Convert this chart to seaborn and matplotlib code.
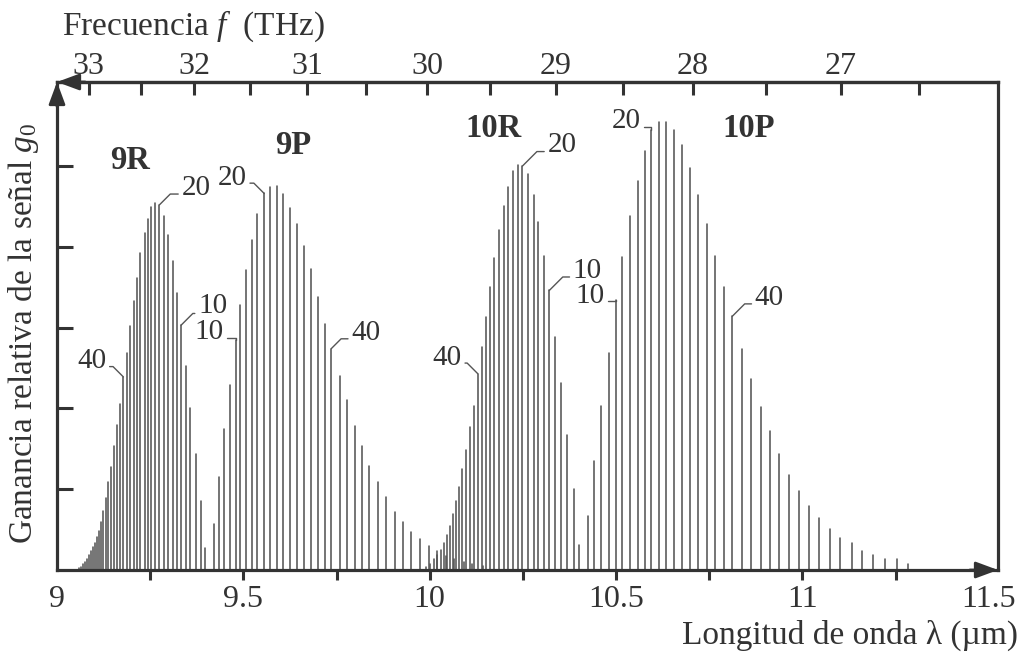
import numpy as np
import pandas as pd
import matplotlib
matplotlib.use("Agg")
import matplotlib.pyplot as plt
import seaborn as sns
from matplotlib.ticker import MultipleLocator, FixedLocator

# ---------------- data ----------------
band_names = ["9R", "9P", "10R", "10P"]

wl_9R = [9.058, 9.064, 9.069, 9.074, 9.080, 9.085, 9.090, 9.096, 9.101, 9.107,
         9.112, 9.117, 9.124, 9.131, 9.137, 9.144, 9.152, 9.161, 9.169, 9.178,
         9.188, 9.197, 9.206, 9.215, 9.224, 9.235, 9.243, 9.253, 9.264, 9.275,
         9.287, 9.299, 9.311, 9.322, 9.333, 9.345, 9.357, 9.372, 9.386, 9.398]
g_9R = [0.02, 0.04, 0.07, 0.10, 0.14, 0.18, 0.23, 0.29, 0.34, 0.41,
        0.48, 0.59, 0.73, 0.89, 1.09, 1.28, 1.53, 1.79, 2.06, 2.39,
        2.69, 3.02, 3.33, 3.62, 3.92, 4.17, 4.35, 4.49, 4.54, 4.52,
        4.38, 4.15, 3.82, 3.43, 3.03, 2.52, 2.00, 1.43, 0.85, 0.27]

wl_9P = [9.420, 9.435, 9.447, 9.463, 9.479, 9.492, 9.507, 9.523, 9.538, 9.556,
         9.572, 9.589, 9.607, 9.626, 9.644, 9.662, 9.682, 9.700, 9.718, 9.736,
         9.759, 9.778, 9.799, 9.818, 9.838, 9.862, 9.883, 9.906, 9.928, 9.949,
         9.973, 9.997, 10.020, 10.043, 10.066, 10.093, 10.114, 10.143]
g_9P = [0.57, 1.15, 1.75, 2.29, 2.85, 3.28, 3.71, 4.08, 4.41, 4.66,
        4.74, 4.75, 4.65, 4.48, 4.28, 4.01, 3.72, 3.38, 3.05, 2.74,
        2.40, 2.10, 1.78, 1.53, 1.29, 1.09, 0.90, 0.72, 0.59, 0.47,
        0.38, 0.30, 0.23, 0.17, 0.14, 0.10, 0.08, 0.05]

wl_10R = [9.991, 10.001, 10.011, 10.021, 10.030, 10.038, 10.046, 10.054, 10.063, 10.071,
          10.079, 10.088, 10.097, 10.108, 10.118, 10.129, 10.140, 10.152, 10.163, 10.173,
          10.185, 10.199, 10.211, 10.224, 10.236, 10.249, 10.263, 10.279, 10.292, 10.307,
          10.321, 10.337, 10.352, 10.369, 10.386, 10.402]
g_10R = [0.04, 0.08, 0.13, 0.18, 0.25, 0.33, 0.43, 0.54, 0.69, 0.85,
         1.03, 1.25, 1.49, 1.77, 2.03, 2.43, 2.76, 3.13, 3.50, 3.86,
         4.21, 4.50, 4.74, 4.94, 5.01, 5.00, 4.90, 4.64, 4.31, 3.89,
         3.46, 2.89, 2.31, 1.67, 1.00, 0.31]

wl_10P = [10.425, 10.442, 10.461, 10.480, 10.499, 10.517, 10.538, 10.558, 10.577, 10.595,
          10.615, 10.634, 10.655, 10.677, 10.698, 10.720, 10.743, 10.766, 10.789, 10.812,
          10.837, 10.862, 10.888, 10.913, 10.937, 10.965, 10.990, 11.018, 11.044, 11.073,
          11.101, 11.132, 11.160, 11.189, 11.223, 11.253, 11.284]
g_10P = [0.67, 1.35, 2.03, 2.69, 3.34, 3.88, 4.38, 4.81, 5.19, 5.44,
         5.55, 5.55, 5.45, 5.26, 4.97, 4.64, 4.28, 3.89, 3.50, 3.14,
         2.73, 2.36, 2.02, 1.72, 1.44, 1.18, 0.98, 0.79, 0.64, 0.51,
         0.39, 0.34, 0.24, 0.18, 0.14, 0.14, 0.08]

# line labels (rotational number J) : band, index of line in band arrays, text
label_band = ["9R", "9R", "9R", "9P", "9P", "9P", "10R", "10R", "10R", "10P", "10P", "10P"]
label_idx = [19, 29, 34, 4, 9, 19, 15, 25, 30, 4, 9, 19]
label_text = ["40", "20", "10", "10", "20", "40", "40", "20", "10", "10", "20", "40"]

band_label_x = [9.195, 9.635, 10.172, 10.856]
band_label_y = [5.07, 5.26, 5.47, 5.47]

wl_ticks = [9, 9.5, 10, 10.5, 11, 11.5]
wl_tick_labels = ["9", "9.5", "10", "10.5", "11", "11.5"]
freq_ticks = [33, 32, 31, 30, 29, 28, 27]
freq_minor = [32.5, 31.5, 30.5, 29.5, 28.5, 27.5, 26.5]
y_ticks = [1, 2, 3, 4, 5]

# ---------------- styling ----------------
sns.set_theme(style="white")
plt.rcParams["font.family"] = ["Liberation Serif", "DejaVu Serif"]
plt.rcParams["mathtext.fontset"] = "custom"
plt.rcParams["mathtext.rm"] = "Liberation Serif"
plt.rcParams["mathtext.it"] = "Liberation Serif:italic"
plt.rcParams["mathtext.bf"] = "Liberation Serif:bold"

TXT = "#333333"
SPINE = "#333333"
LINE = "#555555"
PX = 0.72  # points per pixel at 100 dpi

bands = {"9R": (wl_9R, g_9R), "9P": (wl_9P, g_9P),
         "10R": (wl_10R, g_10R), "10P": (wl_10P, g_10P)}

rows = []
uid = 0
for b in band_names:
    wl, g = bands[b]
    for x, h in zip(wl, g):
        rows.append({"wl": x, "g": 0.0, "line": uid, "band": b})
        rows.append({"wl": x, "g": h, "line": uid, "band": b})
        uid += 1
df = pd.DataFrame(rows)

fig = plt.figure(figsize=(10.23, 6.54), dpi=100)
ax = fig.add_axes([57 / 1023, 84 / 654, 941 / 1023, 488 / 654])

sns.lineplot(data=df, x="wl", y="g", units="line", estimator=None, sort=False,
             color=LINE, linewidth=1.15, ax=ax, legend=False)

ax.set_xlim(9, 11.525)
ax.set_ylim(0, 6.04)

for s in ["left", "right", "bottom", "top"]:
    ax.spines[s].set_visible(True)
    ax.spines[s].set_color(SPINE)
    ax.spines[s].set_linewidth(2.3)

# bottom axis
ax.set_xticks(wl_ticks, labels=wl_tick_labels)
ax.xaxis.set_minor_locator(MultipleLocator(0.25))
ax.tick_params(axis="x", which="both", bottom=True, top=False, direction="out",
               length=7.5, width=2.2, color=SPINE, labelsize=23, labelcolor=TXT, pad=3)
majt = ax.xaxis.get_major_ticks()
majt[0].tick1line.set_visible(False)
majt[-1].tick1line.set_visible(False)

# left axis
ax.set_yticks(y_ticks, labels=[""] * len(y_ticks))
ax.tick_params(axis="y", which="both", left=True, right=False, direction="in",
               length=11.5, width=2.2, color=SPINE)

ax.set_ylabel("Ganancia relativa de la señal $g_0$", fontsize=24, color=TXT)
ax.yaxis.set_label_coords(-0.017, 0.486)
ax.set_xlabel("Longitud de onda λ (µm)", fontsize=24, color=TXT, loc="right")
ax.xaxis.set_label_coords(1.021, -0.103)

# top frequency axis
C = 299.792458


def to_f(x):
    x = np.asarray(x, dtype=float)
    with np.errstate(divide="ignore", invalid="ignore"):
        return C / x


secax = ax.secondary_xaxis("top", functions=(to_f, to_f))
secax.set_xticks(freq_ticks)
secax.xaxis.set_minor_locator(FixedLocator(freq_minor))
secax.tick_params(axis="x", which="both", direction="in", length=9.5, width=2.2,
                  color=SPINE, labelsize=23, labelcolor=TXT, pad=0.5)
secax.spines["top"].set_color(SPINE)
secax.spines["top"].set_linewidth(2.3)
fig.text(62 / 1023, 1 - 35 / 654, "Frecuencia $f$  (THz)", fontsize=24, color=TXT,
         ha="left", va="baseline")

# arrow heads
arrow_kw = dict(arrowstyle="-|>,head_length=1.35,head_width=0.5", color=SPINE,
                lw=2.0, shrinkA=0, shrinkB=0, mutation_scale=10)
ax.annotate("", xy=(0.0, 1.0), xytext=(0.03, 1.0), xycoords="axes fraction",
            arrowprops=arrow_kw, annotation_clip=False)
ax.annotate("", xy=(0.0, 1.0), xytext=(0.0, 0.95), xycoords="axes fraction",
            arrowprops=arrow_kw, annotation_clip=False)
ax.annotate("", xy=(1.0, 0.0), xytext=(0.97, 0.0), xycoords="axes fraction",
            arrowprops=arrow_kw, annotation_clip=False)

# band labels
for name, bx, by in zip(band_names, band_label_x, band_label_y):
    ax.text(bx, by, name, fontsize=23.5, fontweight="bold", color=TXT,
            ha="center", va="center")

# line labels with leaders: (dx_px, dy_px, ha, angleB, relpos_y)
layout = [(-17, 15.5, "right", 135, 0.30),
          (22, 17, "left", 45, 0.26),
          (17, 19, "left", 45, 0.22),
          (-11.5, 7.5, "right", 90, 0.28),
          (-17.5, 15.8, "right", 135, 0.29),
          (20, 15.8, "left", 45, 0.27),
          (-16, 15.8, "right", 135, 0.30),
          (25, 20.7, "left", 45, 0.26),
          (23.5, 19.7, "left", 45, 0.26),
          (-11, 4.5, "right", 90, 0.28),
          (-11, 9, "right", 90, 0.28),
          (22.5, 18.4, "left", 45, 0.27)]

for b, i, t, (dx, dy, ha, angB, ry) in zip(label_band, label_idx, label_text, layout):
    wl, g = bands[b]
    rx = 1.0 if ha == "right" else 0.0
    ax.annotate(t, xy=(wl[i], g[i]), xytext=(dx * PX, dy * PX), textcoords="offset points",
                fontsize=21, color=TXT, ha=ha, va="center",
                arrowprops=dict(arrowstyle="-", color=LINE, lw=1.0, shrinkA=0, shrinkB=0,
                                relpos=(rx, ry),
                                connectionstyle=f"angle,angleA=0,angleB={angB},rad=0"))

fig.savefig("out.png", dpi=100)
